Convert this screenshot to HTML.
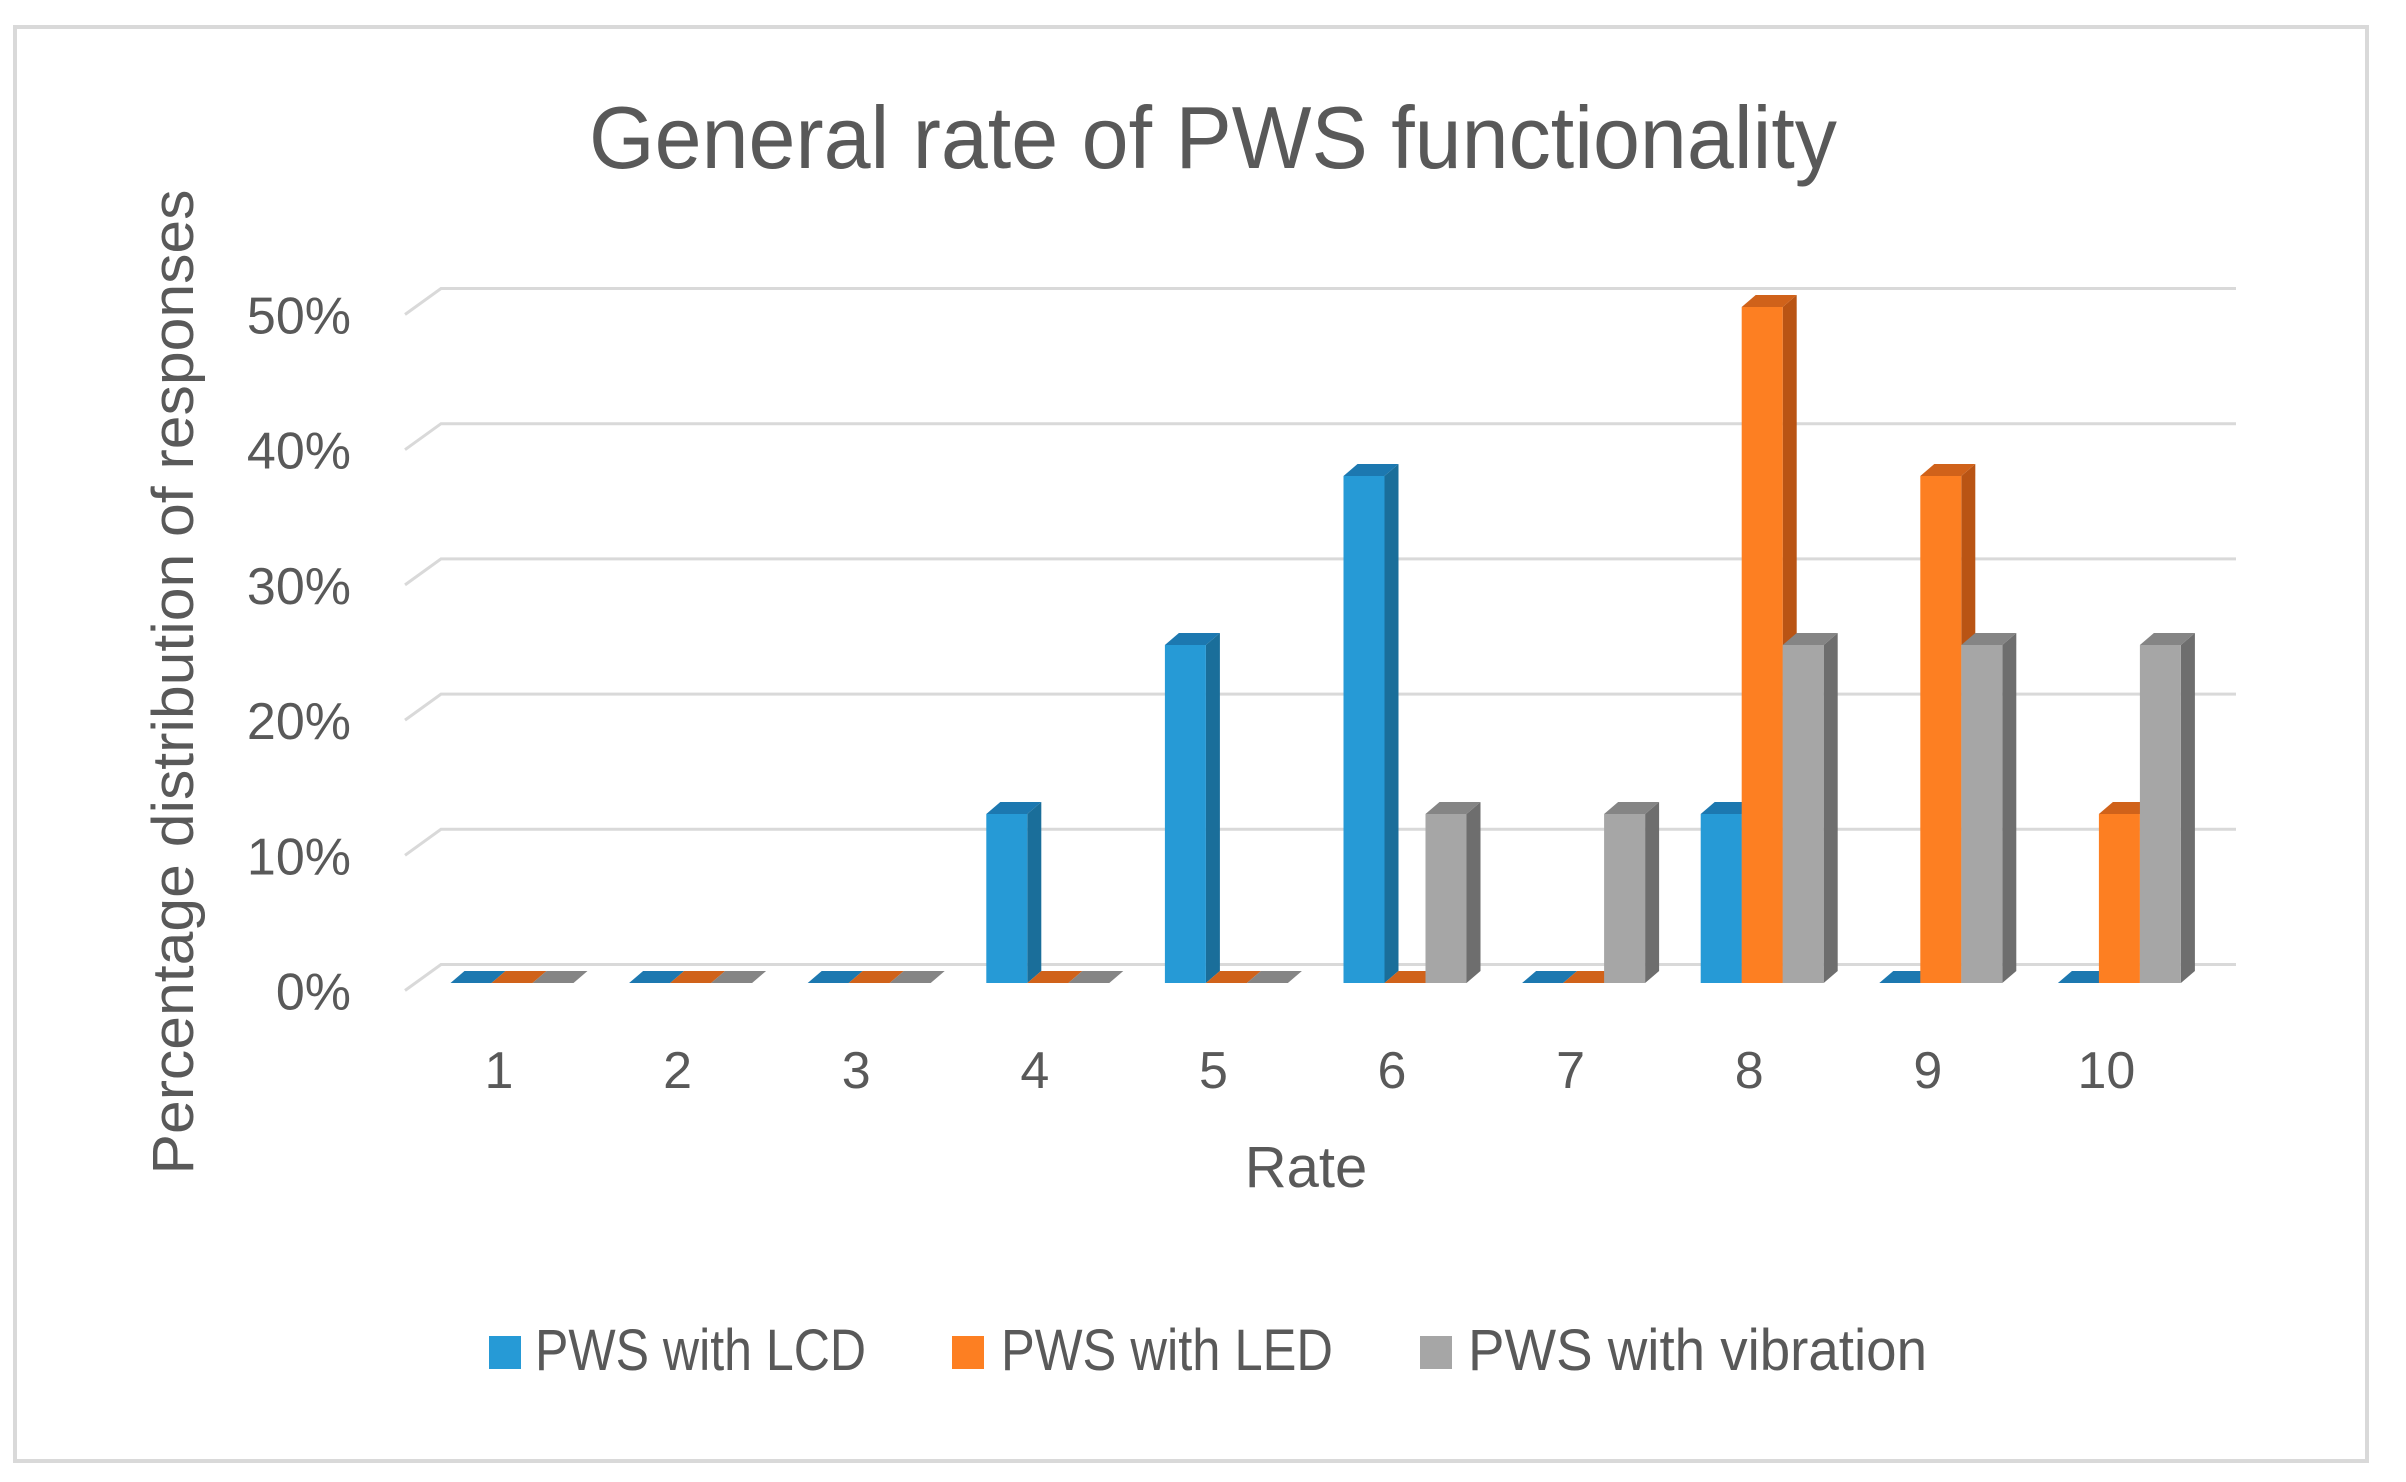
<!DOCTYPE html>
<html><head><meta charset="utf-8"><style>
html,body{margin:0;padding:0;background:#fff;}
svg{display:block;font-family:"Liberation Sans",sans-serif;}
</style></head><body>
<svg id="chart" width="2406" height="1482" viewBox="0 0 2406 1482">
<rect x="15" y="27" width="2352" height="1434" fill="#fff" stroke="#d9d9d9" stroke-width="4"/>
<text x="1213" y="168" text-anchor="middle" font-size="88" fill="#595959" textLength="1248" lengthAdjust="spacingAndGlyphs">General rate of PWS functionality</text>
<g id="grid"></g>
<g id="yticks"></g>
<g id="bars"></g>
<g id="xticks"></g>
<text transform="translate(193,682) rotate(-90)" text-anchor="middle" font-size="58" fill="#595959" textLength="985" lengthAdjust="spacingAndGlyphs">Percentage distribution of responses</text>
<text x="1306" y="1187" text-anchor="middle" font-size="58" fill="#595959">Rate</text>
<g>
<g><rect x="489" y="1336" width="32" height="33" fill="#269ad6"/><text x="535" y="1370" font-size="58" fill="#595959" textLength="331" lengthAdjust="spacingAndGlyphs">PWS with LCD</text></g>
<g><rect x="952" y="1336" width="32" height="33" fill="#fd7f22"/><text x="1001" y="1370" font-size="58" fill="#595959" textLength="332" lengthAdjust="spacingAndGlyphs">PWS with LED</text></g>
<g><rect x="1420" y="1336" width="32" height="33" fill="#a6a6a6"/><text x="1468" y="1370" font-size="58" fill="#595959" textLength="459" lengthAdjust="spacingAndGlyphs">PWS with vibration</text></g>
</g>
</svg>
<script>
const categories = ["1","2","3","4","5","6","7","8","9","10"];
const lcdValues = [0,0,0,12.5,25,37.5,0,12.5,0,0];
const ledValues = [0,0,0,0,0,0,0,50,37.5,12.5];
const vibrationValues = [0,0,0,0,0,12.5,12.5,25,25,25];
const yTickValues = [0,10,20,30,40,50];
const yTickLabels = ["0%","10%","20%","30%","40%","50%"];

const NS = "http://www.w3.org/2000/svg";
function mk(tag, attrs, parent){const e=document.createElementNS(NS,tag);for(const k in attrs)e.setAttribute(k,attrs[k]);parent.appendChild(e);return e;}
const pxPerPct = 13.52;
const backY = v => 964.5 - v*pxPerPct;
const barY = v => 983 - v*pxPerPct;
const groupX = i => 512 + i*178.6;
const BW = 41, DX = 14, DY = 12;

const grid = document.getElementById('grid');
const yt = document.getElementById('yticks');
yTickValues.forEach((v,i)=>{
  const y = backY(v);
  const p = mk('polyline',{points:`405,${y+26} 441,${y} 2236,${y}`,fill:'none',stroke:'#d9d9d9','stroke-width':3},grid);
  
  
  const t = mk('text',{x:351,y:y+26+19,'text-anchor':'end','font-size':52,fill:'#595959'},yt);
  t.textContent = yTickLabels[i];
  
  
});

const series = [
  {name:'lcd', vals:lcdValues, front:'#269ad6', side:'#1a6e9a', top:'#1c78b0'},
  {name:'led', vals:ledValues, front:'#fd7f22', side:'#b95414', top:'#d0621a'},
  {name:'vibration', vals:vibrationValues, front:'#a6a6a6', side:'#6e6e6e', top:'#858585'}
];
const bars = document.getElementById('bars');
const xt = document.getElementById('xticks');
categories.forEach((c,i)=>{
  const cx = groupX(i);
  series.forEach((s,j)=>{
    const v = s.vals[i];
    const x0 = cx - 61.5 + j*BW, x1 = x0 + BW;
    const yb = barY(0), ytop = barY(v);
    const g = mk('g',{},bars);
    
    
    if(v>0){
      mk('polygon',{points:`${x1},${yb} ${x1+DX},${yb-DY} ${x1+DX},${ytop-DY} ${x1},${ytop}`,fill:s.side},g);
      mk('rect',{x:x0,y:ytop,width:BW,height:yb-ytop,fill:s.front},g);
    }
    mk('polygon',{points:`${x0},${ytop} ${x0+DX},${ytop-DY} ${x1+DX},${ytop-DY} ${x1},${ytop}`,fill:s.top},g);
  });
  const t = mk('text',{x:cx-13,y:1088,'text-anchor':'middle','font-size':52,fill:'#595959'},xt);
  t.textContent = c;
  
  
});
</script>
</body></html>
